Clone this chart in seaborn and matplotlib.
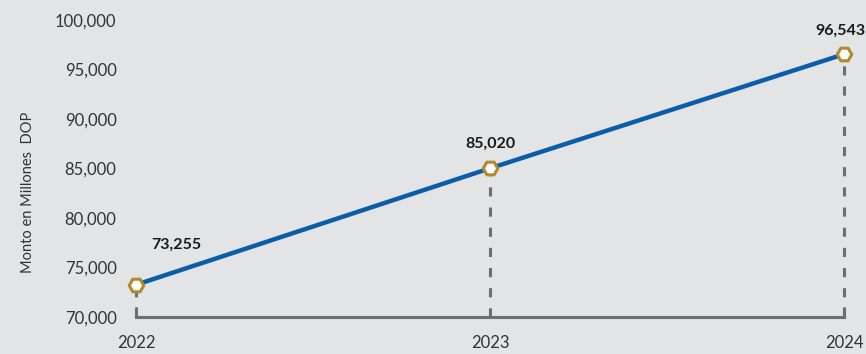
import matplotlib
matplotlib.use("Agg")
import matplotlib.pyplot as plt
import seaborn as sns
import pandas as pd

years = [2022, 2023, 2024]
montos = [73255, 85020, 96543]
value_labels = ["73,255", "85,020", "96,543"]
y_ticks = [70000, 75000, 80000, 85000, 90000, 95000, 100000]

bg = "#e3e4e6"
line_blue = "#0b5ca9"
gold = "#b08a2c"
axis_gray = "#6e6e6e"

sns.set_theme(style="white")
plt.rcParams["font.family"] = ["Lato", "DejaVu Sans"]

df = pd.DataFrame({"year": years, "monto": montos})

fig = plt.figure(figsize=(8.66, 3.54), dpi=100, facecolor=bg)
ax = fig.add_axes([136 / 866, 1 - 317 / 354, (844 - 136) / 866, (317 - 20) / 354])
ax.set_facecolor(bg)

# dashed drop lines from each point to the baseline
for x, y in zip(years, montos):
    ax.plot([x, x], [70000, y], color=axis_gray, lw=2.2, ls=(0, (3, 3.6)),
            zorder=1, clip_on=False)

sns.lineplot(data=df, x="year", y="monto", ax=ax, color=line_blue, lw=3.2,
             zorder=2, clip_on=False)
ax.scatter(years, montos, marker="H", s=110, facecolor="white", edgecolor=gold,
           linewidth=2.2, zorder=3, clip_on=False)

# value labels
offsets = [(40, 40), (0, 25), (-4, 23)]
for x, y, lab, (dx, dy) in zip(years, montos, value_labels, offsets):
    ax.annotate(lab, (x, y), xytext=(dx * 0.72, dy * 0.72), textcoords="offset points",
                ha="center", va="center", fontsize=11.5, fontweight="bold",
                color="#1a1a1a", annotation_clip=False)

ax.set_xlim(2022, 2024)
ax.set_ylim(70000, 100000)
ax.set_xticks(years)
ax.set_xticklabels([str(y) for y in years])
ax.set_yticks(y_ticks)
ax.set_yticklabels([f"{v:,}" for v in y_ticks])
ax.tick_params(axis="both", length=0, labelsize=12, colors="#333333")
ax.tick_params(axis="y", pad=14)
ax.tick_params(axis="x", pad=13)

for side in ["top", "right", "left"]:
    ax.spines[side].set_visible(False)
ax.spines["bottom"].set_color(axis_gray)
ax.spines["bottom"].set_linewidth(2.2)

# end ticks at the baseline
for x in [2022, 2024]:
    ax.plot([x, x], [70000, 70900], color=axis_gray, lw=2.2, zorder=1, clip_on=False)

ax.set_xlabel("")
ax.set_ylabel("Monto en Millones  DOP", fontsize=10.5, color="#333333")
ax.yaxis.set_label_coords(-0.142, 0.42)

fig.savefig("out.png", dpi=100, facecolor=bg)
